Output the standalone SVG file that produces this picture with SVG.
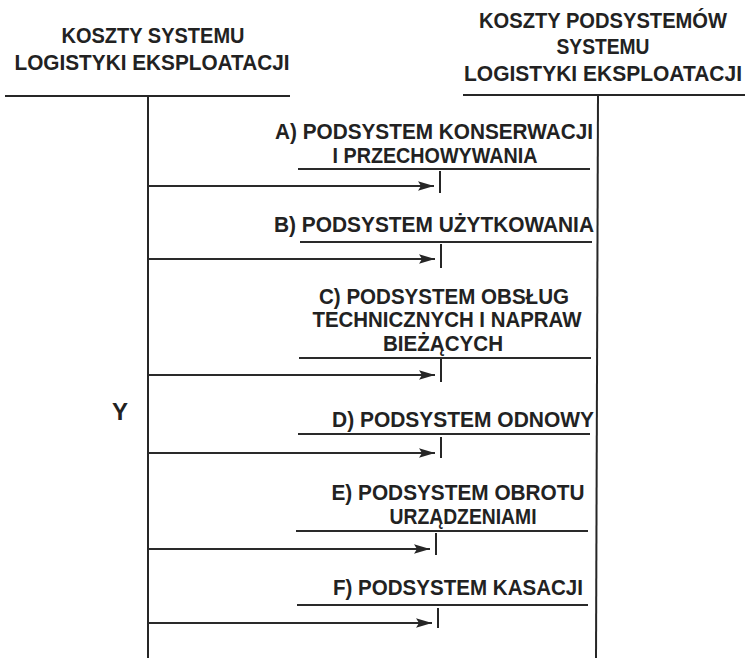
<svg xmlns="http://www.w3.org/2000/svg" width="747" height="658" viewBox="0 0 747 658">
<style>
  .t { font-family: "Liberation Sans", Arial, sans-serif; font-size: 22.5px; font-weight: bold; fill: #222222; text-anchor: middle; }
  .y { font-family: "Liberation Sans", Arial, sans-serif; font-size: 24px; font-weight: bold; fill: #222222; text-anchor: middle; }
  .ln { stroke: #262626; stroke-width: 2; fill: none; }
  .ul { stroke: #2a2a2a; stroke-width: 1.8; fill: none; }
  .ar { stroke: #2a2a2a; stroke-width: 1.8; fill: none; marker-end: url(#ah); }
  .tk { stroke: #262626; stroke-width: 2; fill: none; }
</style>
<defs>
  <marker id="ah" markerUnits="userSpaceOnUse" markerWidth="17" markerHeight="11" refX="16" refY="5.5" orient="auto">
    <path d="M0,0.8 L16,5.5 L0,10.2 L3,5.5 Z" fill="#262626"/>
  </marker>
</defs>
<rect width="747" height="658" fill="#ffffff"/>

<g id="left-header">
  <text class="t" x="153" y="43" textLength="183" lengthAdjust="spacingAndGlyphs">KOSZTY SYSTEMU</text>
  <text class="t" x="152" y="70" textLength="275" lengthAdjust="spacingAndGlyphs">LOGISTYKI EKSPLOATACJI</text>
  <line class="ln" x1="5" y1="96" x2="290" y2="96"/>
  <line class="ln" x1="148" y1="96" x2="148" y2="658"/>
</g>

<g id="right-header">
  <text class="t" x="603" y="28" textLength="248" lengthAdjust="spacingAndGlyphs">KOSZTY PODSYSTEMÓW</text>
  <text class="t" x="603" y="54" textLength="93" lengthAdjust="spacingAndGlyphs">SYSTEMU</text>
  <text class="t" x="603" y="81" textLength="278" lengthAdjust="spacingAndGlyphs">LOGISTYKI EKSPLOATACJI</text>
  <line class="ln" x1="463" y1="95" x2="745" y2="95"/>
  <line class="ln" x1="598" y1="95" x2="596" y2="658"/>
</g>

<g id="label-y">
  <text class="y" x="120" y="420">Y</text>
</g>

<g id="node-a">
  <text class="t" x="434" y="139" textLength="318" lengthAdjust="spacingAndGlyphs">A) PODSYSTEM KONSERWACJI</text>
  <text class="t" x="435" y="163" textLength="205" lengthAdjust="spacingAndGlyphs">I PRZECHOWYWANIA</text>
  <line class="ul" x1="298" y1="169" x2="590" y2="169"/>
</g>

<g id="node-b">
  <text class="t" x="434" y="232" textLength="320" lengthAdjust="spacingAndGlyphs">B) PODSYSTEM UŻYTKOWANIA</text>
  <line class="ul" x1="300" y1="242" x2="592" y2="242"/>
</g>

<g id="node-c">
  <text class="t" x="444" y="304" textLength="250" lengthAdjust="spacingAndGlyphs">C) PODSYSTEM OBSŁUG</text>
  <text class="t" x="447" y="327" textLength="269" lengthAdjust="spacingAndGlyphs">TECHNICZNYCH I NAPRAW</text>
  <text class="t" x="443" y="351" textLength="120" lengthAdjust="spacingAndGlyphs">BIEŻĄCYCH</text>
  <line class="ul" x1="299" y1="358" x2="591" y2="358"/>
</g>

<g id="node-d">
  <text class="t" x="463" y="427" textLength="262" lengthAdjust="spacingAndGlyphs">D) PODSYSTEM ODNOWY</text>
  <line class="ul" x1="298" y1="434" x2="590" y2="434"/>
</g>

<g id="node-e">
  <text class="t" x="458" y="500" textLength="253" lengthAdjust="spacingAndGlyphs">E) PODSYSTEM OBROTU</text>
  <text class="t" x="463" y="524" textLength="147" lengthAdjust="spacingAndGlyphs">URZĄDZENIAMI</text>
  <line class="ul" x1="296" y1="531" x2="588" y2="531"/>
</g>

<g id="node-f">
  <text class="t" x="458" y="595" textLength="250" lengthAdjust="spacingAndGlyphs">F) PODSYSTEM KASACJI</text>
  <line class="ul" x1="297" y1="605" x2="588" y2="605"/>
</g>

<g id="connectors">
  <line class="ar" x1="148" y1="186" x2="434" y2="186"/>
  <line class="tk" x1="440" y1="171" x2="440" y2="193"/>
  <line class="ar" x1="148" y1="259" x2="435" y2="259"/>
  <line class="tk" x1="441" y1="244" x2="441" y2="268"/>
  <line class="ar" x1="148" y1="375" x2="435" y2="375"/>
  <line class="tk" x1="441" y1="359" x2="441" y2="382"/>
  <line class="ar" x1="148" y1="453" x2="435" y2="453"/>
  <line class="tk" x1="441" y1="437" x2="441" y2="458"/>
  <line class="ar" x1="148" y1="549" x2="430" y2="549"/>
  <line class="tk" x1="436" y1="533" x2="436" y2="555"/>
  <line class="ar" x1="148" y1="623" x2="432" y2="623"/>
  <line class="tk" x1="438" y1="608" x2="438" y2="628"/>
</g>
</svg>
